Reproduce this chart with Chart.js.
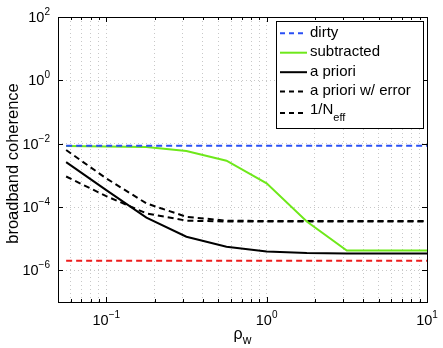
<!DOCTYPE html>
<html>
<head>
<meta charset="utf-8">
<script src="https://cdn.jsdelivr.net/npm/chart.js@4/dist/chart.umd.min.js"></script>
<style>
  body { margin: 0; background: #fff; }
  canvas { display: block; }
</style>
</head>
<body>
<canvas id="chartCoh" width="443" height="348"></canvas>
<script>
// data (log-log)
const rhoW = [0.0562, 0.1, 0.178, 0.316, 0.562, 1, 1.78, 3.16, 5.62, 10];
const dirty = [8.6e-3, 8.6e-3, 8.6e-3, 8.6e-3, 8.6e-3, 8.6e-3, 8.6e-3, 8.6e-3, 8.6e-3, 8.6e-3];
const subtracted = [8.5e-3, 8.2e-3, 7.8e-3, 5.9e-3, 2.9e-3, 5.6e-4, 3.5e-5, 4.2e-6, 4.2e-6, 4.2e-6];
const aPriori = [2.6e-3, 3.4e-4, 4.6e-5, 1.15e-5, 5.6e-6, 3.9e-6, 3.5e-6, 3.4e-6, 3.4e-6, 3.4e-6];
const aPrioriErr = [6.3e-3, 8.0e-4, 1.3e-4, 4.9e-5, 3.7e-5, 3.6e-5, 3.6e-5, 3.6e-5, 3.6e-5, 3.6e-5];
const nEffInv = [9.2e-4, 2.2e-4, 6.3e-5, 3.7e-5, 3.5e-5, 3.5e-5, 3.5e-5, 3.5e-5, 3.5e-5, 3.5e-5];
const noiseFloor = [2.0e-6, 2.0e-6, 2.0e-6, 2.0e-6, 2.0e-6, 2.0e-6, 2.0e-6, 2.0e-6, 2.0e-6, 2.0e-6];

const xTicks = [0.06, 0.07, 0.08, 0.09, 0.1, 0.2, 0.3, 0.4, 0.5, 0.6, 0.7, 0.8, 0.9, 1, 2, 3, 4, 5, 6, 7, 8, 9, 10];
const yTicks = [1e-6, 1e-4, 1e-2, 1, 1e2];

const FONT = '"Liberation Sans", Arial, Helvetica, sans-serif';

function pts(ys) {
  return rhoW.map((x, i) => ({ x: x, y: ys[i] }));
}

function isPow10(v) {
  const e = Math.log10(v);
  return Math.abs(e - Math.round(e)) < 1e-9;
}

// MATLAB-ish frame, tick labels, titles and legend
const decorPlugin = {
  id: "decor",
  afterDraw(chart) {
    const ctx = chart.ctx;
    const a = chart.chartArea;
    const xs = chart.scales.x;
    const ys = chart.scales.y;
    ctx.save();

    // box
    ctx.strokeStyle = "#000";
    ctx.lineWidth = 1;
    ctx.setLineDash([]);
    ctx.strokeRect(Math.round(a.left) + 0.5, Math.round(a.top) + 0.5,
      Math.round(a.right - a.left), Math.round(a.bottom - a.top));

    // tick marks (inward)
    ctx.beginPath();
    xTicks.forEach((v) => {
      const px = Math.round(xs.getPixelForValue(v)) + 0.5;
      const len = isPow10(v) ? 5 : 3;
      ctx.moveTo(px, a.bottom); ctx.lineTo(px, a.bottom - len);
      ctx.moveTo(px, a.top); ctx.lineTo(px, a.top + len);
    });
    yTicks.forEach((v) => {
      const py = Math.round(ys.getPixelForValue(v)) + 0.5;
      ctx.moveTo(a.left, py); ctx.lineTo(a.left + 5, py);
      ctx.moveTo(a.right, py); ctx.lineTo(a.right - 5, py);
    });
    ctx.stroke();

    ctx.fillStyle = "#000";
    // x tick labels
    xTicks.filter(isPow10).forEach((v) => {
      const e = String(Math.round(Math.log10(v))).replace("-", "\u2212");
      const px = xs.getPixelForValue(v);
      ctx.font = "14.5px " + FONT;
      const w1 = ctx.measureText("10").width;
      ctx.font = "10px " + FONT;
      const w2 = ctx.measureText(e).width;
      const x0 = px - (w1 + w2) / 2;
      ctx.textAlign = "left";
      ctx.textBaseline = "alphabetic";
      ctx.font = "14.5px " + FONT;
      ctx.fillText("10", x0, a.bottom + 23);
      ctx.font = "10px " + FONT;
      ctx.fillText(e, x0 + w1, a.bottom + 16);
    });

    // y tick labels
    yTicks.forEach((v) => {
      const e = String(Math.round(Math.log10(v))).replace("-", "\u2212");
      const py = ys.getPixelForValue(v);
      ctx.font = "10px " + FONT;
      const w2 = ctx.measureText(e).width;
      ctx.font = "14.5px " + FONT;
      const w1 = ctx.measureText("10").width;
      const xr = a.left - 8;
      ctx.textAlign = "left";
      ctx.textBaseline = "alphabetic";
      ctx.fillText("10", xr - w2 - w1, py + 5);
      ctx.font = "10px " + FONT;
      ctx.fillText(e, xr - w2, py - 2);
    });

    // x title: rho_w
    const cx = (a.left + a.right) / 2;
    ctx.font = "16px " + FONT;
    const wr = ctx.measureText("\u03c1").width;
    ctx.font = "12px " + FONT;
    const ww = ctx.measureText("w").width;
    ctx.font = "16px " + FONT;
    ctx.fillText("\u03c1", cx - (wr + ww) / 2, a.bottom + 37);
    ctx.font = "12px " + FONT;
    ctx.fillText("w", cx - (wr + ww) / 2 + wr, a.bottom + 42);

    // y title
    ctx.save();
    ctx.translate(13, (a.top + a.bottom) / 2 + 4);
    ctx.rotate(-Math.PI / 2);
    ctx.font = "16.5px " + FONT;
    ctx.textAlign = "center";
    ctx.textBaseline = "middle";
    ctx.fillText("broadband coherence", 0, 0);
    ctx.restore();

    // legend box
    const lx = 276.5, ly = 21.5, lw = 147, lh = 107;
    ctx.fillStyle = "#fff";
    ctx.fillRect(lx, ly, lw, lh);
    ctx.strokeStyle = "#000";
    ctx.lineWidth = 1;
    ctx.strokeRect(lx, ly, lw, lh);
    const rowY = [33.3, 52.7, 72.2, 91.6, 113];
    const shown = chart.data.datasets.filter((d) => d.label);
    shown.forEach((d, i) => {
      const y = rowY[i];
      ctx.strokeStyle = d.borderColor;
      ctx.lineWidth = d.borderWidth;
      ctx.setLineDash(d.borderDash && d.borderDash.length ? [5, 4] : []);
      ctx.beginPath();
      ctx.moveTo(280, y); ctx.lineTo(307, y);
      ctx.stroke();
      ctx.setLineDash([]);
      ctx.fillStyle = "#000";
      ctx.textAlign = "left";
      ctx.textBaseline = "middle";
      if (d.label === "1/Neff") {
        ctx.font = "15px " + FONT;
        ctx.fillText("1/N", 310, y - 3);
        const w = ctx.measureText("1/N").width;
        ctx.font = "11px " + FONT;
        ctx.fillText("eff", 310 + w, y + 5);
      } else {
        ctx.font = "15px " + FONT;
        ctx.fillText(d.label, 310, y - 0.5);
      }
    });
    ctx.restore();
  }
};

const ctx = document.getElementById("chartCoh");
new Chart(ctx, {
  type: "line",
  data: {
    datasets: [
      { label: "dirty", data: pts(dirty), borderColor: "#2a4ff5", borderWidth: 2, borderDash: [6, 4] },
      { label: "subtracted", data: pts(subtracted), borderColor: "#6ee81a", borderWidth: 2 },
      { label: "a priori", data: pts(aPriori), borderColor: "#000", borderWidth: 2 },
      { label: "a priori w/ error", data: pts(aPrioriErr), borderColor: "#000", borderWidth: 2, borderDash: [6, 4] },
      { label: "1/Neff", data: pts(nEffInv), borderColor: "#000", borderWidth: 2, borderDash: [6, 4] },
      { label: "", data: pts(noiseFloor), borderColor: "#ee1c1c", borderWidth: 2, borderDash: [6, 4] }
    ]
  },
  options: {
    responsive: false,
    devicePixelRatio: 1,
    animation: false,
    events: [],
    layout: { padding: { left: 58, top: 17, right: 16, bottom: 46 } },
    elements: {
      point: { radius: 0 },
      line: { tension: 0, fill: false }
    },
    plugins: {
      legend: { display: false },
      tooltip: { enabled: false }
    },
    scales: {
      x: {
        type: "logarithmic",
        min: 0.05,
        max: 10,
        afterBuildTicks: (s) => { s.ticks = xTicks.map((v) => ({ value: v })); },
        ticks: { display: false },
        grid: { color: "#c8c8c8", lineWidth: 1, drawTicks: false },
        border: { display: false, dash: [1, 3] }
      },
      y: {
        type: "logarithmic",
        min: 1e-7,
        max: 1e2,
        afterBuildTicks: (s) => { s.ticks = yTicks.map((v) => ({ value: v })); },
        ticks: { display: false },
        grid: { color: "#c8c8c8", lineWidth: 1, drawTicks: false },
        border: { display: false, dash: [1, 3] }
      }
    }
  },
  plugins: [decorPlugin]
});
</script>
</body>
</html>
